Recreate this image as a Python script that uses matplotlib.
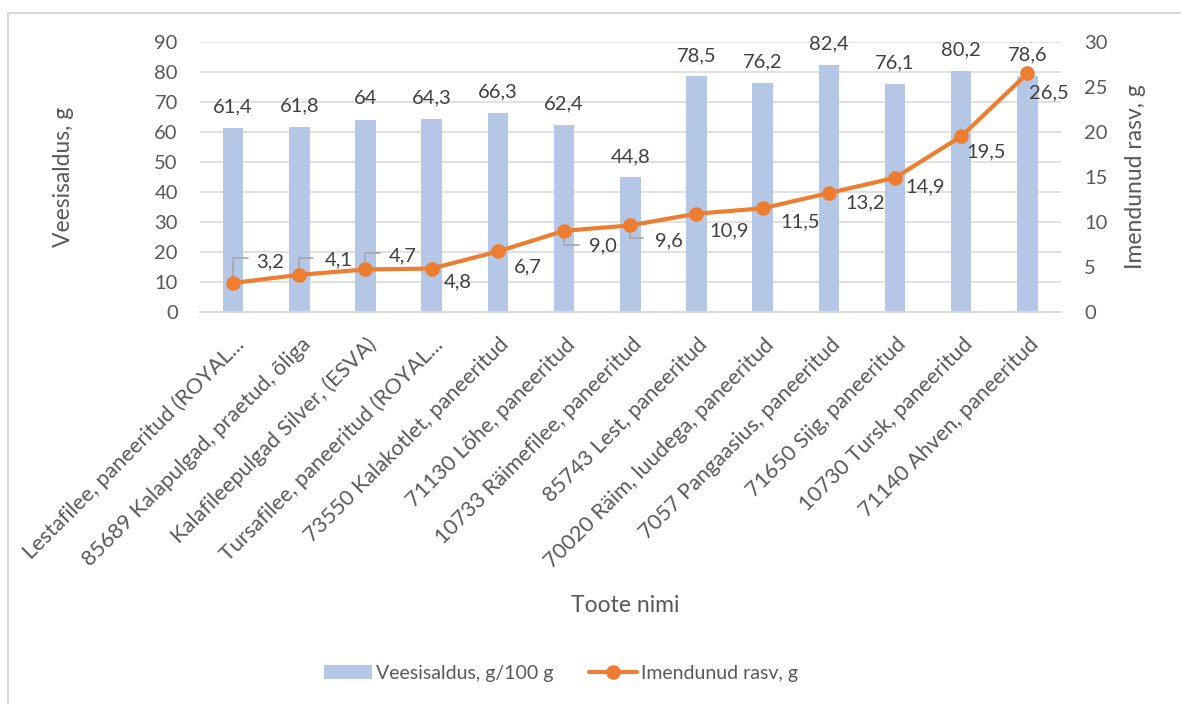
import matplotlib.pyplot as plt
import matplotlib.transforms as mtransforms
from matplotlib.patches import Rectangle
import numpy as np

plt.rcParams['font.family'] = ['Lato', 'DejaVu Sans']

products = [
    'Lestafilee, paneeritud (ROYAL...',
    '85689 Kalapulgad, praetud, õliga',
    'Kalafileepulgad Silver, (ESVA)',
    'Tursafilee, paneeritud (ROYAL...',
    '73550 Kalakotlet, paneeritud',
    '71130 Lõhe, paneeritud',
    '10733 Räimefilee, paneeritud',
    '85743 Lest, paneeritud',
    '70020 Räim, luudega, paneeritud',
    '7057 Pangaasius, paneeritud',
    '71650 Siig, paneeritud',
    '10730 Tursk, paneeritud',
    '71140 Ahven, paneeritud',
]
water = [61.4, 61.8, 64, 64.3, 66.3, 62.4, 44.8, 78.5, 76.2, 82.4, 76.1, 80.2, 78.6]
fat = [3.2, 4.1, 4.7, 4.8, 6.7, 9.0, 9.6, 10.9, 11.5, 13.2, 14.9, 19.5, 26.5]

# label offsets for the fat series (pixels from the marker), and which get a leader line
fat_label_offsets = [(37, 21), (39, 15), (37, 14), (26, -13), (30, -15), (39, -15), (39, -15),
                     (33, -17), (37, -14), (36, -10), (30, -9), (25, -15), (21, -19)]
leaders = {0: (15, 25), 1: (14, 17), 2: (15, 16), 5: (15, -14), 6: (13, -13)}

BAR = '#B4C7E7'
LINE = '#ED7D31'
TXT = '#595959'
LBL = '#404040'
GRID = '#D9D9D9'

W, H = 1181, 704
fig = plt.figure(figsize=(W / 100, H / 100), dpi=100)
ax = fig.add_axes([200 / W, 1 - 311.7 / H, 860.5 / W, 269.7 / H])
ax2 = ax.twinx()

x = np.arange(len(products))
bars = ax.bar(x, water, width=0.31, color=BAR, zorder=2)
ax.bar_label(bars, labels=[f'{v:g}'.replace('.', ',') for v in water],
             padding=9, fontsize=14.5, color=LBL)

ax.set_xlim(-0.5, len(products) - 0.5)
ax.set_ylim(0, 90)
ax.set_yticks(np.arange(0, 91, 10))
ax.yaxis.grid(True, color=GRID, linewidth=1.1, zorder=0)
ax.set_axisbelow(True)
for s in ['top', 'right', 'left']:
    ax.spines[s].set_visible(False)
ax.spines['bottom'].set_color(GRID)
ax.spines['bottom'].set_linewidth(1.4)
ax.tick_params(axis='both', length=0, labelsize=14.5, labelcolor=TXT)
ax.tick_params(axis='y', pad=16)

ax.set_xticks(x)
ax.set_xticklabels(products, rotation=45, ha='right', va='center', rotation_mode='anchor',
                   fontsize=15.7)
shift = mtransforms.ScaledTranslation(8 / 100, -25 / 100, fig.dpi_scale_trans)
for lab in ax.get_xticklabels():
    lab.set_transform(lab.get_transform() + shift)

ax2.plot(x, fat, color=LINE, linewidth=3, marker='o', markersize=9.5, zorder=3,
         solid_capstyle='round')
ax2.set_ylim(0, 30)
ax2.set_yticks(np.arange(0, 31, 5))
for s in ax2.spines.values():
    s.set_visible(False)
ax2.tick_params(axis='y', length=0, labelsize=14.5, labelcolor=TXT, pad=17)

for i, (xi, v) in enumerate(zip(x, fat)):
    dx, dy = fat_label_offsets[i]
    ax2.annotate(f'{v:.1f}'.replace('.', ','), (xi, v), xytext=(dx, dy),
                 textcoords='offset pixels', ha='center', va='center',
                 fontsize=14.5, color=LBL, zorder=5)
    if i in leaders:
        lx, ly = leaders[i]
        ax2.annotate('', (xi, v), xytext=(lx, ly), textcoords='offset pixels',
                     arrowprops=dict(arrowstyle='-', color='#A6A6A6', lw=1.2,
                                     shrinkA=0, shrinkB=0,
                                     connectionstyle='angle,angleA=0,angleB=90,rad=0'),
                     zorder=1)

ax.set_ylabel('Veesisaldus, g', fontsize=16.5, color=TXT)
ax.yaxis.set_label_coords((74 - 200) / 860.5, 0.5)
ax2.set_ylabel('Imendunud rasv, g', fontsize=16.5, color=TXT)
ax2.yaxis.set_label_coords((1125 - 200) / 860.5, 0.5)

fig.text(625 / W, 1 - 605 / H, 'Toote nimi', fontsize=16.5, color=TXT,
         ha='center', va='center')

handles = [bars, ax2.lines[0]]
fig.legend(handles, ['Veesisaldus, g/100 g', 'Imendunud rasv, g'],
           loc='center', bbox_to_anchor=(561 / W, 1 - 673 / H), ncol=2,
           frameon=False, fontsize=14, labelcolor=TXT, handlelength=2.5,
           handletextpad=0.2, columnspacing=1.8, handleheight=0.75)

# chart area outline
fig.patches.append(Rectangle((8 / W, -0.5), 2, 1.5 - 13 / H, transform=fig.transFigure,
                             fill=False, edgecolor=GRID, linewidth=1.5))

fig.savefig('out.png', dpi=100)
